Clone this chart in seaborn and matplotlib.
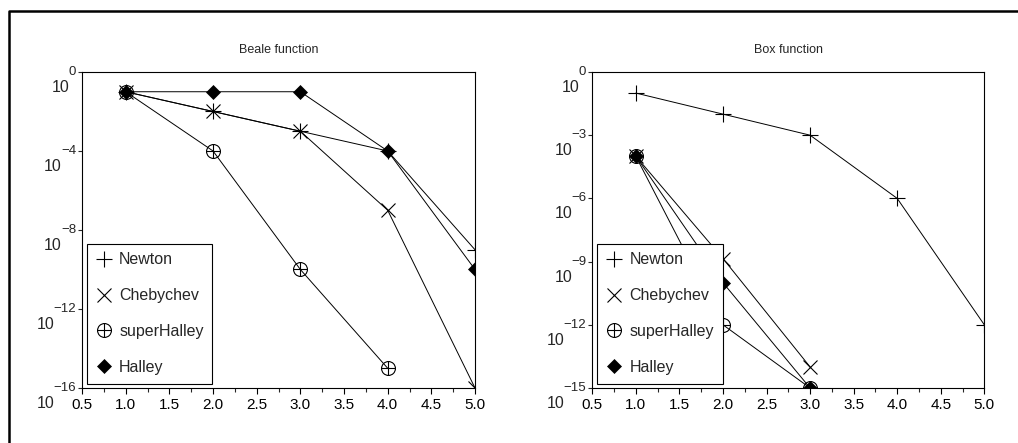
import matplotlib
matplotlib.use('Agg')
import matplotlib.pyplot as plt
from matplotlib.path import Path
from matplotlib.lines import Line2D
from matplotlib.ticker import MultipleLocator, FormatStrFormatter
import seaborn as sns
import numpy as np
import pandas as pd


methods = ['Newton', 'Chebychev', 'superHalley', 'Halley']

# Beale function
beale_newton = [1e-1, 1e-2, 1e-3, 1e-4, 1e-9]
beale_cheby = [1e-1, 1e-2, 1e-3, 1e-7, 1e-16]
beale_super = [1e-1, 1e-4, 1e-10, 1e-15]
beale_halley = [1e-1, 1e-1, 1e-1, 1e-4, 1e-10]

# Box function
box_newton = [1e-1, 1e-2, 1e-3, 1e-6, 1e-12]
box_cheby = [1e-4, 1.4e-9, 1e-14]
box_super = [1e-4, 1e-12, 1e-15]
box_halley = [1e-4, 1e-10, 1e-15]

beale_exps = [0, -4, -8, -12, -16]
box_exps = [0, -3, -6, -9, -12, -15]


sns.set_style('ticks')
plt.rcParams['font.family'] = ['Liberation Sans', 'DejaVu Sans']
plt.rcParams['axes.linewidth'] = 0.8
plt.rcParams['axes.edgecolor'] = 'black'


# circle with a plus inside
circ = Path.unit_circle()
plus = Path([(-1, 0), (1, 0), (0, -1), (0, 1)],
            [Path.MOVETO, Path.LINETO, Path.MOVETO, Path.LINETO])
oplus = Path.make_compound_path(circ, plus)

styles = {
    'Newton': dict(marker='+', markersize=11, markeredgewidth=0.8,
                   markeredgecolor='black'),
    'Chebychev': dict(marker='x', markersize=10, markeredgewidth=0.8,
                      markeredgecolor='black'),
    'superHalley': dict(marker=oplus, markersize=10, markeredgewidth=0.8,
                        markerfacecolor='none', markeredgecolor='black'),
    'Halley': dict(marker='D', markersize=7, markeredgewidth=0.5,
                   markerfacecolor='black', markeredgecolor='black'),
}


def make_df(series):
    rows = []
    for name, vals in zip(methods, series):
        for i, v in enumerate(vals):
            rows.append({'iter': i + 1, 'err': v, 'method': name})
    return pd.DataFrame(rows)


fig = plt.figure(figsize=(10.18, 4.43), dpi=100)
ax1 = fig.add_axes([0.0806, 0.1242, 0.386, 0.7133])
ax2 = fig.add_axes([0.5818, 0.1242, 0.3851, 0.7133])

panels = [
    (ax1, 'Beale function', make_df([beale_newton, beale_cheby, beale_super, beale_halley]), beale_exps),
    (ax2, 'Box function', make_df([box_newton, box_cheby, box_super, box_halley]), box_exps),
]

for ax, title, df, exps in panels:
    for name in methods:
        sub = df[df['method'] == name]
        sns.lineplot(data=sub, x='iter', y='err', ax=ax, color='black',
                     linewidth=0.7, legend=False, **styles[name])
    ax.set_yscale('log')
    ax.set_xlim(0.5, 5.0)
    ax.set_ylim(10.0 ** exps[-1], 1.0)
    ax.set_xlabel('')
    ax.set_ylabel('')
    ax.set_title(title, fontsize=9, pad=14)

    ax.xaxis.set_major_locator(MultipleLocator(0.5))
    ax.xaxis.set_minor_locator(MultipleLocator(0.25))
    ax.xaxis.set_major_formatter(FormatStrFormatter('%.1f'))
    ax.tick_params(axis='x', which='major', direction='out', length=4.5,
                   width=0.8, pad=3, labelsize=11, colors='black')
    ax.tick_params(axis='x', which='minor', direction='out', length=3,
                   width=0.8)

    ax.set_yticks([10.0 ** e for e in exps])
    ax.yaxis.set_minor_locator(plt.NullLocator())
    ax.set_yticklabels([])
    ax.tick_params(axis='y', which='major', direction='out', length=3,
                   width=0.8)

    # tick labels drawn as "10" with the exponent raised to the tick
    for e in exps:
        s = '0' if e == 0 else '\u2212' + str(-e)
        et = ax.annotate(s, xy=(0, 10.0 ** e), xycoords=('axes fraction', 'data'),
                         xytext=(-6, 0), textcoords='offset pixels',
                         ha='right', va='center', fontsize=9.5, annotation_clip=False)
        ax.annotate('10', xy=(0, 0), xycoords=et, xytext=(1, -2),
                    textcoords='offset pixels', ha='right', va='top',
                    fontsize=11.5, annotation_clip=False)

    for sp in ax.spines.values():
        sp.set_visible(True)
        sp.set_color('black')
        sp.set_linewidth(0.8)

    handles = [Line2D([], [], color='black', linestyle='none', **styles[m])
               for m in methods]
    leg = ax.legend(handles, methods, loc='lower left',
                    bbox_to_anchor=(0.013, 0.014), borderaxespad=0,
                    fontsize=11.5, frameon=True, fancybox=False,
                    edgecolor='black', framealpha=1, labelspacing=1.3,
                    handlelength=1.0, handletextpad=0.45, borderpad=0.55)
    leg.get_frame().set_linewidth(0.8)

# outer frame (top and left edges)
y_top = 1 - 11.3 / 443
x_left = 8.7 / 1018
fig.add_artist(Line2D([x_left, x_left, 1.05], [-0.05, y_top, y_top],
                      transform=fig.transFigure, color='black', linewidth=1.8))

fig.savefig('out.png', dpi=100)
